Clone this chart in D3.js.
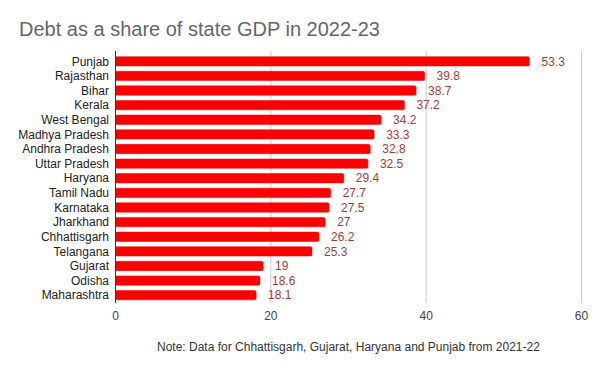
<!DOCTYPE html>
<html>
<head>
<meta charset="utf-8">
<script src="https://cdn.jsdelivr.net/npm/d3@7"></script>
<style>
  body { margin: 0; background: #fff; }
  svg { font-family: Arial, "Liberation Sans", sans-serif; }
</style>
</head>
<body>
<div id="chart"></div>
<script>
const states = ["Punjab", "Rajasthan", "Bihar", "Kerala", "West Bengal", "Madhya Pradesh",
  "Andhra Pradesh", "Uttar Pradesh", "Haryana", "Tamil Nadu", "Karnataka", "Jharkhand",
  "Chhattisgarh", "Telangana", "Gujarat", "Odisha", "Maharashtra"];
const debtShare = [53.3, 39.8, 38.7, 37.2, 34.2, 33.3, 32.8, 32.5, 29.4, 27.7, 27.5, 27,
  26.2, 25.3, 19, 18.6, 18.1];
const ticks = [0, 20, 40, 60];

const width = 600, height = 371;
const svg = d3.select("#chart").append("svg").attr("width", width).attr("height", height);

// titulo
svg.append("text")
  .attr("x", 19).attr("y", 36)
  .attr("fill", "#666").attr("font-size", 20)
  .text("Debt as a share of state GDP in 2022-23");

const x = d3.scaleLinear().domain([0, 60]).range([115.5, 581.5]);
const y = d3.scaleBand().domain(states).range([54, 302.5]).paddingInner(0.36).paddingOuter(0.18);

// rejilla
svg.selectAll(".grid")
  .data(ticks.slice(1))
  .enter().append("line")
  .attr("x1", d => x(d)).attr("x2", d => x(d))
  .attr("y1", 51).attr("y2", 303)
  .attr("stroke", "#ccc").attr("stroke-width", 1);

// barras
svg.selectAll(".bar")
  .data(states)
  .enter().append("rect")
  .attr("x", x(0))
  .attr("y", d => y(d))
  .attr("width", (d, i) => x(debtShare[i]) - x(0))
  .attr("height", y.bandwidth())
  .attr("rx", 1.5)
  .attr("fill", "#ff0000")
  .attr("stroke", "#e00000").attr("stroke-width", 0.5);

// eje vertical
svg.append("line")
  .attr("x1", x(0)).attr("x2", x(0))
  .attr("y1", 51).attr("y2", 303)
  .attr("stroke", "#333").attr("stroke-width", 1);

// etiquetas de estados
svg.selectAll(".cat")
  .data(states)
  .enter().append("text")
  .attr("x", 109)
  .attr("y", d => y(d) + y.bandwidth() / 2)
  .attr("dy", "0.35em")
  .attr("text-anchor", "end")
  .attr("font-size", 12)
  .attr("fill", "#222")
  .text(d => d);

// valores
svg.selectAll(".val")
  .data(states)
  .enter().append("text")
  .attr("x", (d, i) => x(debtShare[i]) + 12)
  .attr("y", d => y(d) + y.bandwidth() / 2)
  .attr("dy", "0.35em")
  .attr("font-size", 12)
  .attr("fill", "#a83a3a")
  .text((d, i) => debtShare[i]);

// ticks del eje x
svg.selectAll(".tick")
  .data(ticks)
  .enter().append("text")
  .attr("x", d => x(d))
  .attr("y", 320)
  .attr("text-anchor", "middle")
  .attr("font-size", 12)
  .attr("fill", "#444")
  .text(d => d);

// nota
svg.append("text")
  .attr("x", 157).attr("y", 351)
  .attr("font-size", 12)
  .attr("fill", "#333")
  .text("Note: Data for Chhattisgarh, Gujarat, Haryana and Punjab from 2021-22");
</script>
</body>
</html>
